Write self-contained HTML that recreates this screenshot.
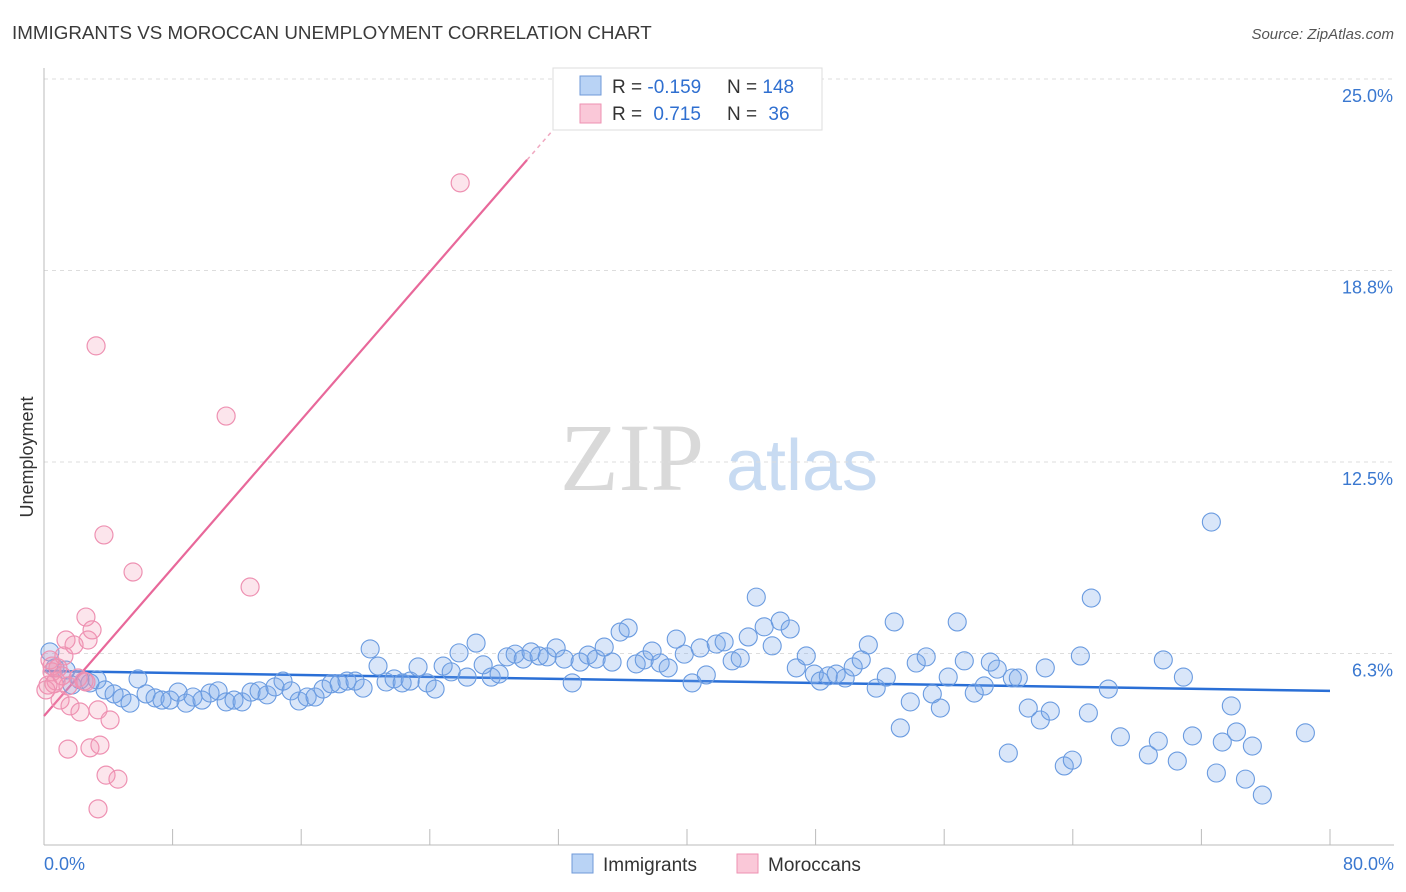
<!DOCTYPE html>
<html><head><meta charset="utf-8"><style>
body{margin:0;background:#fff;font-family:"Liberation Sans",sans-serif;}
</style></head><body>
<svg id="chart" width="1406" height="892" xmlns="http://www.w3.org/2000/svg" style="display:block">
<text x="12" y="39" font-size="18.8" fill="#3a3a3a" font-family="Liberation Sans, sans-serif">IMMIGRANTS VS MOROCCAN UNEMPLOYMENT CORRELATION CHART</text>
<text x="1394" y="39" font-size="15" fill="#555" font-style="italic" text-anchor="end">Source: ZipAtlas.com</text>
<text x="632" y="490" font-size="96" fill="#d9d9d9" font-family="Liberation Serif, serif" text-anchor="middle">ZIP</text>
<text x="802" y="490" font-size="72" fill="#c8dbf2" text-anchor="middle">atlas</text>
<text transform="translate(33,457) rotate(-90)" font-size="18" fill="#333" text-anchor="middle">Unemployment</text>
<g id="grid"></g><g id="axes"></g><g id="trend"></g><g id="pts"></g>
<g>
<rect x="553" y="68" width="269" height="62" fill="#fff" stroke="#ddd"/>
<rect x="580" y="76" width="21" height="19" fill="#b9d3f5" stroke="#6f9ad8"/>
<text x="612" y="93" font-size="19" fill="#333">R = <tspan fill="#2f6fd0">-0.159</tspan></text>
<text x="727" y="93" font-size="19" fill="#333">N = <tspan fill="#2f6fd0">148</tspan></text>
<rect x="580" y="104" width="21" height="19" fill="#fac8d8" stroke="#ee91b2"/>
<text x="612" y="120" font-size="19" fill="#333">R = <tspan fill="#2f6fd0" dx="6">0.715</tspan></text>
<text x="727" y="120" font-size="19" fill="#333">N = <tspan fill="#2f6fd0" dx="6">36</tspan></text>
</g>
<g>
<rect x="572" y="854" width="21" height="19" fill="#b9d3f5" stroke="#6f9ad8"/>
<text x="603" y="871" font-size="19" fill="#333">Immigrants</text>
<rect x="737" y="854" width="21" height="19" fill="#fac8d8" stroke="#ee91b2"/>
<text x="768" y="871" font-size="19" fill="#333">Moroccans</text>
</g>
</svg>
<script>
const yTicks=[6.3,12.5,18.8,25.0];
const yTickVals=[6.25,12.5,18.75,25];
const xTickCount=10;
const blueX=[0.37,0.68,1.37,1.74,2.24,2.86,3.30,3.80,4.36,4.85,5.35,5.85,6.35,6.91,7.34,7.84,8.34,8.84,9.27,9.83,10.33,10.83,11.33,11.82,12.32,12.88,13.38,13.88,14.37,14.87,15.37,15.87,16.37,16.86,17.36,17.86,18.36,18.85,19.35,19.85,20.29,20.78,21.28,21.78,22.28,22.78,23.27,23.83,24.33,24.83,25.33,25.82,26.32,26.88,27.32,27.82,28.31,28.81,29.31,29.81,30.30,30.80,31.30,31.86,32.36,32.86,33.35,33.85,34.35,34.85,35.34,35.84,36.34,36.84,37.34,37.83,38.33,38.83,39.33,39.83,40.32,40.82,41.20,41.82,42.31,42.81,43.31,43.81,44.31,44.80,45.30,45.80,46.42,46.80,47.42,47.92,48.29,48.79,49.28,49.84,50.34,50.84,51.28,51.77,52.40,52.89,53.27,53.89,54.26,54.88,55.26,55.76,56.25,56.81,57.25,57.87,58.49,58.87,59.30,59.99,60.24,60.61,61.23,61.98,62.29,62.60,63.47,63.97,64.47,64.97,65.15,66.21,66.96,68.70,69.32,69.63,70.50,70.88,71.44,72.62,72.93,73.30,73.86,74.18,74.74,75.17,75.79,78.47];
const blueY=[6.30,5.78,5.71,5.22,5.39,5.29,5.39,5.06,4.93,4.80,4.63,5.42,4.93,4.80,4.73,4.73,4.99,4.63,4.83,4.73,4.96,5.03,4.67,4.73,4.67,4.99,5.03,4.90,5.16,5.35,5.03,4.70,4.83,4.83,5.09,5.26,5.26,5.35,5.35,5.12,6.40,5.84,5.32,5.42,5.29,5.35,5.81,5.29,5.09,5.84,5.65,6.27,5.48,6.59,5.88,5.48,5.58,6.14,6.23,6.07,6.30,6.17,6.14,6.43,6.07,5.29,5.97,6.20,6.07,6.46,5.97,6.95,7.08,5.91,6.04,6.33,5.94,5.78,6.72,6.23,5.29,6.43,5.55,6.56,6.63,6.01,6.10,6.79,8.09,7.12,6.50,7.31,7.05,5.78,6.17,5.58,5.35,5.52,5.58,5.45,5.81,6.04,6.53,5.12,5.48,7.28,3.82,4.67,5.94,6.14,4.93,4.47,5.48,7.28,6.01,4.96,5.19,5.97,5.74,3.00,5.45,5.45,4.47,4.08,5.78,4.37,2.58,2.77,6.17,4.31,8.06,5.09,3.53,2.94,3.39,6.04,2.74,5.48,3.56,10.54,2.35,3.36,4.54,3.69,2.15,3.23,1.63,3.66];
const pinkX=[0.37,0.50,0.62,0.75,0.87,1.00,1.24,1.37,1.49,1.62,1.87,2.24,2.49,2.61,2.74,2.86,2.99,3.24,3.36,3.48,3.73,3.86,4.11,4.60,3.36,1.49,5.54,11.33,12.82,25.89,0.25,0.50,1.12,2.12,2.61,0.12];
const pinkY=[6.04,5.65,5.26,5.35,5.78,4.73,6.17,6.69,5.19,4.54,6.53,4.34,5.35,7.44,6.69,3.17,7.02,16.29,4.41,3.26,10.12,2.28,4.08,2.15,1.18,3.13,8.91,14.00,8.42,21.61,5.22,5.84,5.52,5.45,5.32,5.06];
const blueTrend=[5.68,5.03];
const pinkTrend=[4.21,22.36];
const X0=44,X1=1330,Y0=845,YPER=30.64;
const sx=v=>X0+v*(X1-X0)/80;
const sy=v=>Y0-v*YPER;
const NS="http://www.w3.org/2000/svg";
function mk(tag,attrs,parent){const e=document.createElementNS(NS,tag);for(const k in attrs)e.setAttribute(k,attrs[k]);document.getElementById(parent).appendChild(e);return e;}
yTickVals.forEach((v,i)=>{
 const l=mk('line',{x1:X0,x2:1394,y1:sy(v),y2:sy(v),stroke:'#ddd','stroke-dasharray':'4,4'},'grid');
 
 
 const t=mk('text',{x:1393,y:sy(v)+23,'font-size':18,fill:'#3a78d0','text-anchor':'end'},'grid');
 
 
 t.textContent=yTicks[i].toFixed(1)+'%';
});
const ax=mk('line',{x1:X0,x2:1394,y1:Y0,y2:Y0,stroke:'#bbb'},'axes');


const ay=mk('line',{x1:X0,x2:X0,y1:68,y2:Y0,stroke:'#bbb'},'axes');


for(let i=0;i<=xTickCount;i++){
 const tk=mk('line',{x1:sx(i*8),x2:sx(i*8),y1:Y0,y2:Y0-16,stroke:'#bbb'},'axes');
 
 
}
const xl=mk('text',{x:44,y:870,'font-size':18,fill:'#3a78d0'},'axes');


xl.textContent='0.0%';
const xr=mk('text',{x:1394,y:870,'font-size':18,fill:'#3a78d0','text-anchor':'end'},'axes');


xr.textContent='80.0%';
blueX.forEach((x,i)=>{
 const c=mk('circle',{cx:sx(x),cy:sy(blueY[i]),r:9,fill:'rgba(120,165,235,0.28)',stroke:'#6a9be0','stroke-width':1.1},'pts');
 
 
});
pinkX.forEach((x,i)=>{
 const c=mk('circle',{cx:sx(x),cy:sy(pinkY[i]),r:9,fill:'rgba(245,150,180,0.25)',stroke:'#ee91b2','stroke-width':1.2},'pts');
 
 
});
const bt=mk('line',{x1:sx(0),y1:sy(blueTrend[0]),x2:sx(80),y2:sy(blueTrend[1]),stroke:'#2a6fd6','stroke-width':2.5},'trend');


const slope=(pinkTrend[1]-pinkTrend[0])/30.05;
const pt=mk('line',{x1:sx(0),y1:sy(pinkTrend[0]),x2:sx(30.05),y2:sy(pinkTrend[1]),stroke:'#e8689a','stroke-width':2.2},'trend');


const pd=mk('line',{x1:sx(30.05),y1:sy(pinkTrend[1]),x2:sx(31.8),y2:sy(pinkTrend[0]+slope*31.8),stroke:'#f0a8c0','stroke-width':1.5,'stroke-dasharray':'4,4'},'trend');


</script>
</body></html>
